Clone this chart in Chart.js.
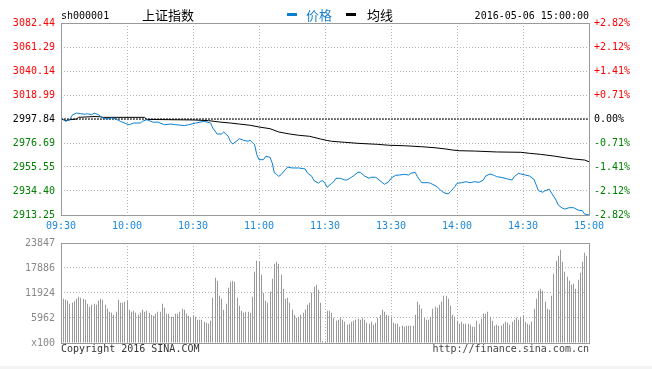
<!DOCTYPE html>
<html>
<head>
<meta charset="utf-8">
<script src="https://cdn.jsdelivr.net/npm/chart.js@4/dist/chart.umd.min.js"></script>
<style>
body{margin:0;background:#fff;width:652px;height:369px;overflow:hidden;position:relative;font-family:"DejaVu Sans Mono",monospace;}
canvas{position:absolute;left:0;top:0;}
.t{position:absolute;white-space:nowrap;font-size:10px;line-height:12px;color:#000;}
.cn{position:absolute;white-space:nowrap;font-family:"Noto Sans CJK SC",sans-serif;font-size:13px;line-height:16px;}
.dash{position:absolute;width:10px;height:3px;}
</style>
</head>
<body>
<canvas id="vol" width="652" height="369"></canvas>
<canvas id="price" width="652" height="369"></canvas>

<div class="t" style="left:61px;top:10px">sh000001</div>
<div class="cn" style="left:142px;top:7px;color:#000">上证指数</div>
<div class="dash" style="left:287px;top:13px;background:#0a7fd0"></div>
<div class="cn" style="left:306px;top:7px;color:#1a7fcf">价格</div>
<div class="dash" style="left:346px;top:13px;background:#000"></div>
<div class="cn" style="left:367px;top:7px;color:#000">均线</div>
<div class="t" style="right:63px;top:10px">2016-05-06 15:00:00</div>
<div class="t" style="left:61px;top:343px;color:#333">Copyright 2016 SINA.COM</div>
<div class="t" style="right:63px;top:343px;color:#444">http://finance.sina.com.cn</div>
<div style="position:absolute;left:0;top:366px;width:652px;height:3px;background:#f3f3f3"></div>

<script>
var prevClose = 2997.84;
var priceTickLabels = ["3082.44","3061.29","3040.14","3018.99","2997.84","2976.69","2955.55","2934.40","2913.25"];
var pctTickLabels = ["+2.82%","+2.12%","+1.41%","+0.71%","0.00%","-0.71%","-1.41%","-2.12%","-2.82%"];
var timeTicks = [0,30,60,90,120,150,180,210,240];
var timeLabels = ["09:30","10:00","10:30","11:00","11:30","13:30","14:00","14:30","15:00"];
var volTicks = [0,5962,11924,17886,23847];
var volTickLabels = ["x100","5962","11924","17886","23847"];

// minute index (0 = 09:30, 120 = 11:30/13:00, 240 = 15:00) and price
var priceMinutes = [0,2,4,5,7,9,11,12,14,15,17,19,21,23,25,27,30,31,33,36,37,39,40,42,44,45,47,50,52,55,56,58,61,65,68,69,71,73,74,76,77,78,80,81,83,85,86,88,89,90,92,93,95,96,97,98,99,100,102,103,105,108,111,112,114,115,117,118,119,120,121,123,124,125,127,129,130,132,133,135,136,138,140,141,143,145,147,149,150,152,154,156,158,159,161,162,164,167,168,171,172,174,176,177,179,180,182,184,186,188,190,192,193,195,197,198,200,203,205,206,208,209,211,213,215,216,217,219,220,222,223,225,226,228,229,231,233,235,237,238,240];
var priceValues = [2999.3,2995.8,2997.2,3001.1,3003.1,3002.5,3002.0,3002.5,3001.6,3003.1,3001.6,2998.7,2997.8,2998.7,2997.8,2995.8,2993.4,2992.8,2994.3,2994.3,2995.8,2997.2,2996.4,2994.9,2995.2,2994.3,2992.8,2993.4,2992.8,2992.3,2992.0,2992.8,2994.2,2995.8,2994.3,2989.9,2984.6,2984.6,2986.4,2982.6,2978.2,2975.8,2978.7,2980.5,2979.1,2978.2,2979.1,2975.2,2966.4,2962.0,2962.0,2964.9,2964.1,2959.1,2950.3,2949.0,2947.3,2948.8,2953.2,2955.5,2954.7,2954.7,2953.8,2950.3,2947.3,2943.5,2941.4,2942.9,2943.5,2941.2,2937.6,2941.2,2942.6,2945.6,2945.6,2944.1,2944.1,2946.5,2947.9,2950.9,2950.9,2947.6,2945.6,2946.5,2946.5,2943.5,2940.3,2942.6,2945.6,2948.2,2948.5,2949.1,2948.5,2950.0,2950.9,2947.0,2941.7,2941.7,2941.2,2938.2,2935.9,2932.9,2931.8,2933.8,2938.2,2941.2,2941.7,2942.6,2941.7,2942.6,2942.0,2944.1,2947.6,2949.4,2948.2,2947.0,2946.5,2945.0,2944.1,2947.0,2950.0,2949.4,2948.5,2947.6,2944.7,2939.7,2934.7,2933.3,2934.7,2935.9,2932.4,2926.5,2922.1,2919.1,2918.5,2919.7,2919.7,2917.6,2917.0,2914.1,2913.25];

var avgMinutes = [0,2,4,7,8,15,18,19,38,39,60,67,72,77,81,86,90,95,99,104,108,113,118,121,123,129,135,144,149,156,164,170,175,178,181,188,198,209,213,218,224,229,233,238,240];
var avgValues = [2998.1,2996.4,2997.2,2997.8,2999.3,3000.0,2999.8,2999.3,2999.3,2997.5,2997.0,2996.4,2995.2,2994.3,2993.4,2992.3,2990.8,2989.3,2986.4,2984.6,2983.5,2982.6,2980.2,2978.9,2978.2,2977.3,2976.4,2975.5,2974.7,2974.3,2973.4,2972.5,2971.4,2970.5,2969.9,2969.6,2968.8,2968.5,2967.6,2966.7,2965.2,2963.7,2962.6,2961.7,2960.2];

// volume per minute (x100), minute 0 .. 239
var volumes = [
18920,10570,10330,10100,9380,9620,9940,10570,11050,10810,10570,10330,9380,8660,9140,9380,9140,10100,10570,10330,9140,8190,7470,7230,6760,7470,10330,9620,9620,9860,10100,
7950,7470,7710,7230,6760,7230,7950,7470,7710,7230,6760,6520,7000,7470,7470,9380,8430,7000,7000,6280,6280,7000,7000,7470,8190,7950,7000,6520,6040,6520,
6280,5560,5560,5560,5090,4850,4610,5330,10810,15580,14870,11290,10570,7950,9380,13200,14630,14870,14630,10810,8900,7710,7230,7470,7470,7230,11050,17010,19630,19400,
16300,11920,10100,9620,12240,15340,18920,19400,18920,16300,12960,10570,10810,9620,7950,6760,6040,6280,6760,7230,8000,9140,9620,12000,13430,13910,12720,9620,560,400,
7710,7710,7230,6040,5330,5560,6040,5560,5090,4370,4610,5090,5330,5560,5800,5560,6040,5560,4850,4610,5090,4370,4850,6040,6760,7950,7470,6760,6520,6280,
4850,4610,4610,3900,4130,3900,4130,4130,4130,4130,6760,9860,9140,8190,6040,5560,5560,6280,8190,8660,8430,9140,9860,11290,11290,10570,8900,6760,6280,5330,
4610,5090,4610,4610,4610,4370,3900,3900,5330,4610,5800,7000,7000,7470,6280,5330,4130,4370,4130,4130,4610,5090,4850,4370,5090,5560,6040,5560,6280,6520,
5090,4610,4370,5090,8190,10570,12480,12960,12480,9860,8190,7950,11290,16530,19630,20830,22260,19400,17010,15820,14870,13910,14150,12960,15100,16770,19400,21540,20830
];

var monoFont = {family: "DejaVu Sans Mono", size: 10};
var gridColor = "#b4b4b4";

function tickColor(ctx) {
  var v = ctx.tick.value;
  if (Math.abs(v - prevClose) < 0.001) return "#000";
  return v > prevClose ? "#ff0000" : "#008000";
}

var frame = {
  id: "frame",
  afterDraw: function(chart) {
    var a = chart.chartArea, ctx = chart.ctx;
    ctx.save();
    ctx.strokeStyle = "#999";
    ctx.lineWidth = 1;
    ctx.strokeRect(Math.round(a.left) + 0.5, Math.round(a.top) + 0.5, Math.round(a.right - a.left), Math.round(a.bottom - a.top));
    ctx.restore();
  }
};

// keep the 1px volume bars on whole pixels so they stay crisp
var snapBars = {
  id: "snapBars",
  afterDatasetsUpdate: function(chart) {
    chart.getDatasetMeta(0).data.forEach(function(el){ el.x = Math.floor(el.x) + 0.5; });
  }
};

new Chart(document.getElementById("price"), {
  type: "line",
  data: {
    datasets: [
      {label: "价格", data: priceMinutes.map(function(m, i){ return {x: m, y: priceValues[i]}; }), borderColor: "#0a7fd0", borderWidth: 1, pointRadius: 0, tension: 0, yAxisID: "y"},
      {label: "均线", data: avgMinutes.map(function(m, i){ return {x: m, y: avgValues[i]}; }), borderColor: "#000", borderWidth: 1, pointRadius: 0, tension: 0, yAxisID: "y"},
      {label: "prev", data: [{x: 0, y: prevClose}, {x: 240, y: prevClose}], borderColor: "#000", borderWidth: 1, borderDash: [2, 1], pointRadius: 0, yAxisID: "y"}
    ]
  },
  options: {
    responsive: false,
    animation: false,
    layout: {padding: {top: 23, bottom: 137, left: 0, right: 0}},
    plugins: {legend: {display: false}, tooltip: {enabled: false}},
    scales: {
      x: {
        type: "linear", min: 0, max: 240,
        afterBuildTicks: function(s){ s.ticks = timeTicks.map(function(v){ return {value: v}; }); },
        afterFit: function(s){ s.height = 17; },
        ticks: {autoSkip: false, maxRotation: 0, padding: 5, color: "#1e88d8", font: monoFont,
          callback: function(v, i){ return timeLabels[i]; }},
        grid: {color: gridColor, drawTicks: false},
        border: {display: false, dash: [1, 2]}
      },
      y: {
        position: "left", min: 2913.25, max: 3082.44,
        afterBuildTicks: function(s){ s.ticks = priceTickLabels.map(function(t){ return {value: parseFloat(t)}; }); },
        afterFit: function(s){ s.width = 61; },
        ticks: {padding: 6, color: tickColor, font: monoFont,
          callback: function(v, i){ return priceTickLabels[i]; }},
        grid: {color: gridColor, drawTicks: false},
        border: {display: false, dash: [1, 2]}
      },
      y2: {
        position: "right", min: 2913.25, max: 3082.44,
        afterBuildTicks: function(s){ s.ticks = priceTickLabels.map(function(t){ return {value: parseFloat(t)}; }); },
        afterFit: function(s){ s.width = 63; },
        ticks: {padding: 5, color: tickColor, font: monoFont,
          callback: function(v, i){ return pctTickLabels[i]; }},
        grid: {display: false, drawTicks: false},
        border: {display: false}
      }
    }
  },
  plugins: [frame]
});

new Chart(document.getElementById("vol"), {
  type: "bar",
  data: {
    datasets: [{
      label: "成交量",
      data: volumes.map(function(v, i){ return {x: i, y: v}; }),
      backgroundColor: "#999",
      barThickness: 1,
      inflateAmount: 0
    }]
  },
  options: {
    responsive: false,
    animation: false,
    layout: {padding: {top: 243, bottom: 26, left: 0, right: 63}},
    plugins: {legend: {display: false}, tooltip: {enabled: false}},
    scales: {
      x: {
        type: "linear", min: 0, max: 240, offset: false,
        afterBuildTicks: function(s){ s.ticks = timeTicks.map(function(v){ return {value: v}; }); },
        afterFit: function(s){ s.height = 0; },
        ticks: {display: false},
        grid: {color: gridColor, drawTicks: false, offset: false},
        border: {display: false, dash: [1, 2]}
      },
      y: {
        min: 0, max: 23847,
        afterBuildTicks: function(s){ s.ticks = volTicks.map(function(v){ return {value: v}; }); },
        afterFit: function(s){ s.width = 61; },
        ticks: {padding: 6, color: "#888", font: monoFont,
          callback: function(v, i){ return volTickLabels[i]; }},
        grid: {color: gridColor, drawTicks: false},
        border: {display: false, dash: [1, 2]}
      }
    }
  },
  plugins: [frame, snapBars]
});
</script>
</body>
</html>
